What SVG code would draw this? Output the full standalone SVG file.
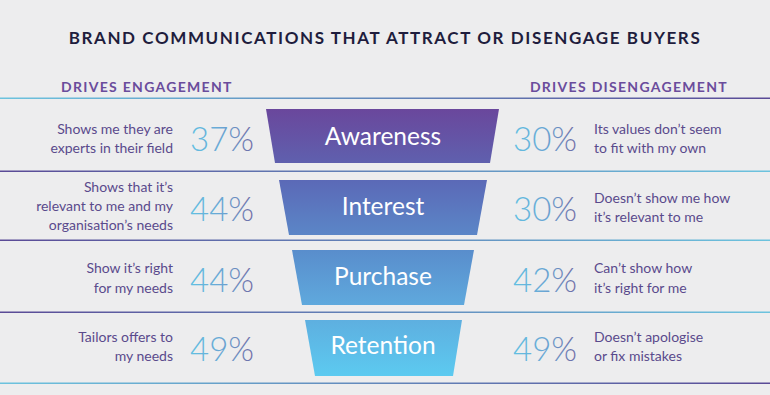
<svg xmlns="http://www.w3.org/2000/svg" width="770" height="395" viewBox="0 0 770 395">
<defs>
<linearGradient id="lbp" x1="0" y1="0" x2="1" y2="0"><stop offset="0" stop-color="#6cc3de"/><stop offset="1" stop-color="#5a4a96"/></linearGradient>
<linearGradient id="lpb" x1="0" y1="0" x2="1" y2="0"><stop offset="0" stop-color="#5a4a96"/><stop offset="1" stop-color="#6cc3de"/></linearGradient>
<linearGradient id="gA" x1="0" y1="0" x2="0" y2="1"><stop offset="0" stop-color="#6a479c"/><stop offset="1" stop-color="#5f60ae"/></linearGradient>
<linearGradient id="gI" x1="0" y1="0" x2="0" y2="1"><stop offset="0" stop-color="#5b69b7"/><stop offset="1" stop-color="#5b86c7"/></linearGradient>
<linearGradient id="gP" x1="0" y1="0" x2="0" y2="1"><stop offset="0" stop-color="#598dcc"/><stop offset="1" stop-color="#5fa9dd"/></linearGradient>
<linearGradient id="gR" x1="0" y1="0" x2="0" y2="1"><stop offset="0" stop-color="#5eafe0"/><stop offset="1" stop-color="#5ccaf0"/></linearGradient>
<linearGradient id="pct" x1="0" y1="0" x2="1" y2="0"><stop offset="0" stop-color="#62c0e2"/><stop offset="0.5" stop-color="#6aa6d4"/><stop offset="1" stop-color="#6e6aa4"/></linearGradient>
</defs>
<style>
.title{font-family:Lato,"Open Sans",sans-serif;font-weight:700;font-size:17px;fill:#1f1d3d;letter-spacing:1.6px}
.head{font-family:Lato,"Open Sans",sans-serif;font-weight:700;font-size:14px;fill:#6a4c9c;letter-spacing:1.3px}
.body{font-family:Lato,"Open Sans",sans-serif;font-size:14px;fill:#5a4a8c}
.pct{font-family:Lato,"Open Sans",sans-serif;font-weight:300;font-size:33px;fill:url(#pct)}
.stage{font-family:Lato,"Open Sans",sans-serif;font-size:24.5px;fill:#ffffff;text-anchor:middle}
.l{text-anchor:end}
</style>
<rect width="770" height="395" fill="#ededee"/>
<text class="title" x="385" y="44" text-anchor="middle">BRAND COMMUNICATIONS THAT ATTRACT OR DISENGAGE BUYERS</text>
<text class="head" x="61" y="92">DRIVES ENGAGEMENT</text>
<text class="head" x="728" y="92" text-anchor="end">DRIVES DISENGAGEMENT</text>
<g id="connectors">
<rect x="0" y="97.5" width="770" height="1.5" fill="url(#lbp)"/>
<rect x="0" y="170.5" width="770" height="1.5" fill="url(#lpb)"/>
<rect x="0" y="239.5" width="770" height="1.5" fill="url(#lpb)"/>
<rect x="0" y="311.5" width="770" height="1.5" fill="url(#lpb)"/>
<rect x="0" y="382.5" width="770" height="1.5" fill="url(#lbp)"/>
</g>
<g id="awareness">
<polygon points="266,109 499,109 490,163 275,163" fill="url(#gA)"/>
<text class="stage" x="383" y="145">Awareness</text>
<text class="body l" x="173" y="134">Shows me they are</text>
<text class="body l" x="173" y="153">experts in their field</text>
<text class="pct" x="190" y="151">37%</text>
<text class="pct" x="513" y="151">30%</text>
<text class="body" x="594" y="134">Its values don’t seem</text>
<text class="body" x="594" y="153">to fit with my own</text>
</g>
<g id="interest">
<polygon points="279,180 487,180 477,235 289,235" fill="url(#gI)"/>
<text class="stage" x="383" y="215">Interest</text>
<text class="body l" x="173" y="192">Shows that it’s</text>
<text class="body l" x="173" y="211">relevant to me and my</text>
<text class="body l" x="173" y="230">organisation’s needs</text>
<text class="pct" x="190" y="221">44%</text>
<text class="pct" x="513" y="221">30%</text>
<text class="body" x="594" y="203">Doesn’t show me how</text>
<text class="body" x="594" y="222">it’s relevant to me</text>
</g>
<g id="purchase">
<polygon points="292,250 474,250 464,305 302,305" fill="url(#gP)"/>
<text class="stage" x="383" y="285">Purchase</text>
<text class="body l" x="173" y="273">Show it’s right</text>
<text class="body l" x="173" y="293">for my needs</text>
<text class="pct" x="190" y="292">44%</text>
<text class="pct" x="513" y="292">42%</text>
<text class="body" x="594" y="273">Can’t show how</text>
<text class="body" x="594" y="293">it’s right for me</text>
</g>
<g id="retention">
<polygon points="305,320 462,320 453,376 315,376" fill="url(#gR)"/>
<text class="stage" x="383" y="354">Retention</text>
<text class="body l" x="173" y="342">Tailors offers to</text>
<text class="body l" x="173" y="361">my needs</text>
<text class="pct" x="190" y="361">49%</text>
<text class="pct" x="513" y="361">49%</text>
<text class="body" x="594" y="342">Doesn’t apologise</text>
<text class="body" x="594" y="361">or fix mistakes</text>
</g>
</svg>
